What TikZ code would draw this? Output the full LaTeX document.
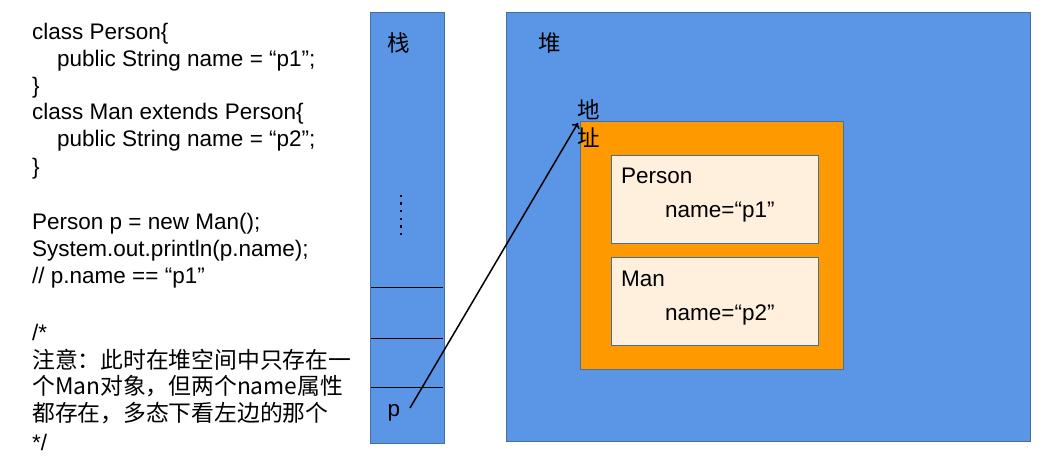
\documentclass[tikz,border=0pt]{standalone}
\usepackage{fontspec}
\usetikzlibrary{arrows.meta}
\setmainfont{Liberation Sans}
\newfontfamily\cjk{Noto Sans CJK SC}
\definecolor{blueF}{HTML}{5B95E5}
\definecolor{blueD}{HTML}{41719C}
\definecolor{orangeF}{HTML}{FF9900}
\definecolor{creamF}{HTML}{FFF0DD}
\begin{document}
\begin{tikzpicture}[x=1pt,y=-1pt,
  code/.style={anchor=west,inner sep=0pt,yshift=-2.5pt,font=\fontsize{22.5}{26}\selectfont},
  cjkt/.style={anchor=west,inner sep=0pt,yshift=-1.5pt,font=\cjk\fontsize{22.8}{26}\selectfont},
  lbl/.style={inner sep=0pt,font=\fontsize{22.5}{26}\selectfont},
  cjkl/.style={inner sep=0pt,font=\cjk\fontsize{22.5}{26}\selectfont},
  mem/.style={draw=blueD,fill=blueF,line width=0.8pt},
  obj/.style={draw=blueD,fill=creamF,line width=0.8pt}]
\useasboundingbox (0,0) rectangle (1042,457);
% code text
\node[code] (l1) at (32,31) {class Person\{};
\node[code] (l2) at (57,58) {public String name = “p1”;};
\node[code] (l3) at (32,85) {\}};
\node[code] (l4) at (32,111) {class Man extends Person\{};
\node[code] (l5) at (57,138) {public String name = “p2”;};
\node[code] (l6) at (32,166) {\}};
\node[code] (l7) at (32,221) {Person p = new Man();};
\node[code] (l8) at (32,248) {System.out.println(p.name);};
\node[code] (l9) at (32,275) {// p.name == “p1”};
\node[code] (l10) at (32,330) {/*};
\node[cjkt] (l11) at (32,358) {注意：此时在堆空间中只存在一};
\node[cjkt] (l12) at (32,385) {个Man对象，但两个name属性};
\node[cjkt] (l13) at (32,412) {都存在，多态下看左边的那个};
\node[code] (l14) at (32,440) {*/};
% stack
\path[mem] (370,12) rectangle (444,443);
\node[cjkl] (zhan) at (399,43) {栈};
\draw[line width=0.9pt] (371,287) -- (443,287);
\draw[line width=0.9pt] (371,338) -- (443,338);
\draw[line width=0.9pt] (371,387) -- (443,387);
\draw[line width=2.4pt,dash pattern=on 2.4pt off 5.2pt] (401,194.8) -- (401,237);
\node[lbl] (p) at (394,413) {p};
% heap
\path[mem] (506,12) rectangle (1030,441);
\node[cjkl] (dui) at (550,43) {堆};
\node[draw=blueD,fill=orangeF,line width=0.8pt,minimum width=263pt,minimum height=248pt,inner sep=0pt] (obj) at (711.5,245) {};
\node[obj,minimum width=207pt,minimum height=88pt,inner sep=0pt] (pb) at (714.5,199) {};
\node[code] (pt) at (621,173) {Person};
\node[code] (pn) at (665,210) {name=“p1”};
\node[obj,minimum width=207pt,minimum height=88pt,inner sep=0pt] (mb) at (714.5,301) {};
\node[code] (mt) at (621,276) {Man};
\node[code] (mn) at (665,312) {name=“p2”};
\node[cjkl] (di) at (589,110) {地};
\node[cjkl] (zhi) at (589,138) {址};
\coordinate (start) at (410,408);
\coordinate (tip) at (578,123);
\draw[-{To[length=5pt,width=9pt]},line width=1.5pt] (start) -- (tip);
\end{tikzpicture}
\end{document}
